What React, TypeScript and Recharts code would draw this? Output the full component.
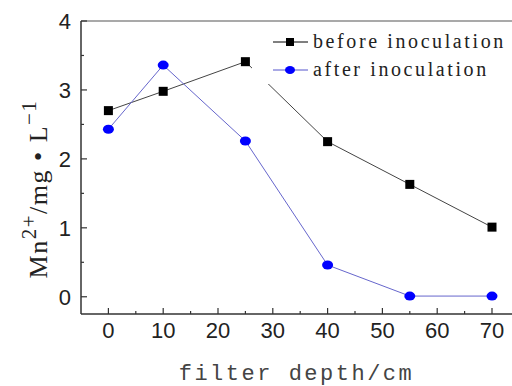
import { LineChart, Line, XAxis, YAxis, Legend, ReferenceLine } from 'recharts';

const depths = [0, 10, 25, 40, 55, 70];
const before = [2.7, 2.98, 3.41, 2.25, 1.63, 1.01];
const after = [2.43, 3.36, 2.26, 0.46, 0.01, 0.01];

const xTicks = [0, 5, 10, 15, 20, 25, 30, 35, 40, 45, 50, 55, 60, 65, 70];
const yTicks = [0, 0.5, 1, 1.5, 2, 2.5, 3, 3.5, 4];

const data = depths.map((d, i) => ({ depth: d, before: before[i], after: after[i] }));

const AXIS = '#333';
const TICK_FONT = '"Liberation Sans", Arial, sans-serif';
const SERIF = '"Liberation Serif", "Times New Roman", serif';

function XTick({ x, y, payload }: any) {
  const major = payload.value % 10 === 0;
  return (
    <g>
      <line x1={x} x2={x} y1={y} y2={y - (major ? 6 : 3)} stroke={AXIS} strokeWidth={1.2} />
      {major && (
        <text x={x} y={y + 24} textAnchor="middle" fontSize={22} fontFamily={TICK_FONT} fill="#222">
          {payload.value}
        </text>
      )}
    </g>
  );
}

function YTick({ x, y, payload }: any) {
  const major = payload.value % 1 === 0;
  return (
    <g>
      <line x1={x} x2={x + (major ? 6 : 3)} y1={y} y2={y} stroke={AXIS} strokeWidth={1.2} />
      {major && (
        <text x={x - 10} y={y + 8} textAnchor="end" fontSize={22} fontFamily={TICK_FONT} fill="#222">
          {payload.value}
        </text>
      )}
    </g>
  );
}

function Square({ cx, cy }: any) {
  return <rect x={cx - 4.5} y={cy - 4.5} width={9} height={9} fill="#000" />;
}

function Dot({ cx, cy }: any) {
  return <ellipse cx={cx} cy={cy} rx={5.5} ry={4.5} fill="#0000ff" />;
}

function LegendBox() {
  return (
    <svg width={256} height={56} style={{ background: '#fff', display: 'block' }}>
      <line x1={21} x2={56} y1={14} y2={14} stroke="#000" strokeWidth={1} />
      <rect x={34} y={10} width={8} height={8} fill="#000" />
      <text x={61} y={20} fontSize={20} fontFamily={SERIF} letterSpacing={2.6} fill="#222">
        before inoculation
      </text>
      <line x1={21} x2={56} y1={42} y2={42} stroke="#5555cc" strokeWidth={1} />
      <ellipse cx={38} cy={42} rx={5} ry={4} fill="#0000ff" />
      <text x={61} y={48} fontSize={20} fontFamily={SERIF} letterSpacing={2.6} fill="#222">
        after inoculation
      </text>
    </svg>
  );
}

function YLabel() {
  return (
    <text
      transform="translate(47, 189) rotate(-90)"
      textAnchor="middle"
      fontSize={26}
      fontFamily={SERIF}
      letterSpacing={1.5}
      fill="#222"
    >
      <tspan>Mn</tspan>
      <tspan dy={-11} fontSize={21}>2+</tspan>
      <tspan dy={11}>/mg • L</tspan>
      <tspan dy={-11} fontSize={21}>−1</tspan>
    </text>
  );
}

export default function App() {
  return (
    <div style={{ position: 'absolute', left: 0, top: 0, width: 512, height: 386, overflow: 'hidden', background: '#fff' }}>
      <LineChart width={512} height={386} data={data} margin={{ top: 21, right: 0, bottom: 0, left: 0 }}>
        <XAxis
          dataKey="depth"
          type="number"
          domain={[-5, 73.65]}
          allowDataOverflow
          ticks={xTicks}
          interval={0}
          tickSize={0}
          tickMargin={0}
          tickLine={false}
          tick={<XTick />}
          axisLine={{ stroke: AXIS, strokeWidth: 1.5 }}
          height={72}
          label={{
            value: 'filter depth/cm',
            position: 'insideBottom',
            offset: 6,
            fontSize: 22,
            fontFamily: '"Liberation Mono", "Courier New", monospace',
            letterSpacing: 2.5,
            fill: '#444',
          }}
        />
        <YAxis
          type="number"
          domain={[-0.25, 4]}
          ticks={yTicks}
          interval={0}
          width={81}
          tickSize={0}
          tickMargin={0}
          tickLine={false}
          tick={<YTick />}
          axisLine={{ stroke: AXIS, strokeWidth: 1.5 }}
          label={{ content: () => <YLabel /> }}
        />
        <ReferenceLine y={4} stroke="#555" strokeWidth={1.2} />
        <Legend
          layout="horizontal"
          verticalAlign="middle"
          align="center"
          content={() => <LegendBox />}
          wrapperStyle={{ position: 'absolute', left: 252, top: 28, width: 256, height: 56 }}
        />
        <Line
          dataKey="before"
          stroke="#444"
          strokeWidth={1}
          dot={<Square />}
          isAnimationActive={false}
        />
        <Line
          dataKey="after"
          stroke="#6666cc"
          strokeWidth={1}
          dot={<Dot />}
          isAnimationActive={false}
        />
      </LineChart>
    </div>
  );
}
